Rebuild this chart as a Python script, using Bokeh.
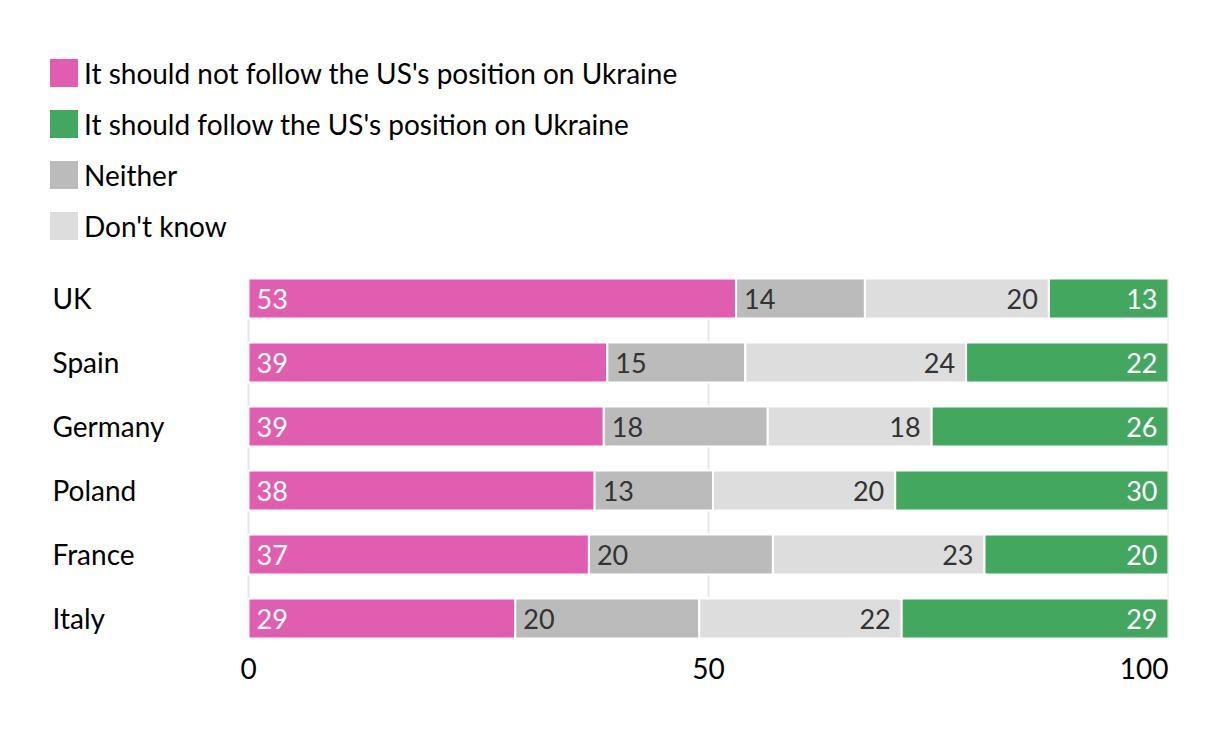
import numpy as np
from bokeh.plotting import figure
from bokeh.layouts import column
from bokeh.models import ColumnDataSource, Range1d, Legend, LegendItem
from bokeh.core.properties import value
from bokeh.embed import file_html
from bokeh.resources import INLINE

countries = ["UK", "Spain", "Germany", "Poland", "France", "Italy"]
not_follow = [53, 39, 39, 38, 37, 29]
neither = [14, 15, 18, 13, 20, 20]
dont_know = [20, 24, 18, 20, 23, 22]
follow = [13, 22, 26, 30, 20, 29]
series_names = ["It should not follow the US's position on Ukraine",
                "It should follow the US's position on Ukraine",
                "Neither", "Don't know"]
x_ticks = [0, 50, 100]
x_tick_labels = ["0", "50", "100"]

PINK = "#e05eb0"
GREEN = "#43a760"
GRAY = "#bbbbbb"
LIGHT = "#dddddd"
FONT = "Lato"

stack = [("nf", not_follow, PINK, "white", "left"),
         ("ne", neither, GRAY, "#333333", "left"),
         ("dk", dont_know, LIGHT, "#333333", "right"),
         ("fo", follow, GREEN, "white", "right")]

vals = np.array([not_follow, neither, dont_know, follow], dtype=float)
shares = vals / vals.sum(axis=0) * 100
cum = np.cumsum(shares, axis=0)
ys = np.arange(len(countries))
n = len(countries)

# layout constants (pixels)
W = 1204
PLOT_LEFT = 248
PLOT_W = 920
RIGHT = 36
BAND = 64
TOP = 8
BOTTOM_EXTRA = 70
LABEL_X = 52
BAR_H = 0.625

def clean(fig):
    fig.outline_line_color = None
    fig.xgrid.visible = False
    fig.ygrid.visible = False
    fig.axis.visible = False
    fig.background_fill_color = "white"
    fig.border_fill_color = "white"

# ---- legend figure ----
lf = figure(width=W, height=258, output_backend="svg", toolbar_location=None,
            x_range=Range1d(0, 1), y_range=Range1d(0, 1),
            min_border_left=0, min_border_top=0, min_border_right=RIGHT, min_border_bottom=0)
clean(lf)
leg_colors = [PINK, GREEN, GRAY, LIGHT]
items = []
for name, col in zip(series_names, leg_colors):
    r = lf.hbar(y=[0], left=[0], right=[0], height=0, fill_color=col, line_color=None)
    items.append(LegendItem(label=name, renderers=[r]))
legend = Legend(items=items, location=(46, 15), orientation="vertical",
                glyph_width=35, glyph_height=35, label_height=35,
                label_text_font=FONT, label_text_font_size="28px",
                label_text_color="black", label_standoff=3,
                spacing=16, padding=0, margin=0,
                border_line_alpha=0, background_fill_alpha=0)
lf.add_layout(legend, "center")

# ---- chart figure ----
x_start = -PLOT_LEFT / PLOT_W * 100
y_range = Range1d(n - 0.5 + BOTTOM_EXTRA / BAND, -0.5)
p = figure(width=W, height=462, output_backend="svg", toolbar_location=None,
           x_range=Range1d(x_start, 100), y_range=y_range,
           min_border_left=0, min_border_right=RIGHT, min_border_top=TOP, min_border_bottom=0)
clean(p)

p.segment(x0=x_ticks, x1=x_ticks, y0=[-BAR_H / 2] * len(x_ticks),
          y1=[n - 1 + BAR_H / 2] * len(x_ticks),
          line_color="#e6e6e6", line_width=2)

for i, (key, raw, color, tcol, align) in enumerate(stack):
    left = cum[i] - shares[i]
    right = cum[i]
    src = ColumnDataSource(dict(y=ys, left=left, right=right, lab=[str(v) for v in raw],
                                lx=(left if align == "left" else right)))
    p.hbar(y="y", left="left", right="right", height=BAR_H, source=src,
           fill_color=color, line_color="white", line_width=2)
    p.text(x="lx", y="y", text="lab", source=src, text_color=tcol,
           text_font=value(FONT), text_font_size="27px", text_baseline="middle",
           text_align=align, x_offset=(8 if align == "left" else -11), y_offset=0)

# country labels
p.text(x=[x_start] * n, y=ys, text=countries, x_offset=LABEL_X,
       text_font=value(FONT), text_font_size="28px",
       text_color="black", text_baseline="middle", text_align="left", y_offset=-1)

# x tick labels
tick_align = ["center"] * (len(x_ticks) - 1) + ["right"]
p.text(x=x_ticks, y=[n - 0.5] * len(x_ticks), text=x_tick_labels,
       text_align=tick_align, text_baseline="middle", y_offset=18,
       text_font=value(FONT), text_font_size="28px", text_color="black")

layout = column(lf, p, spacing=0)
open("out.html", "w").write(file_html(layout, INLINE))
